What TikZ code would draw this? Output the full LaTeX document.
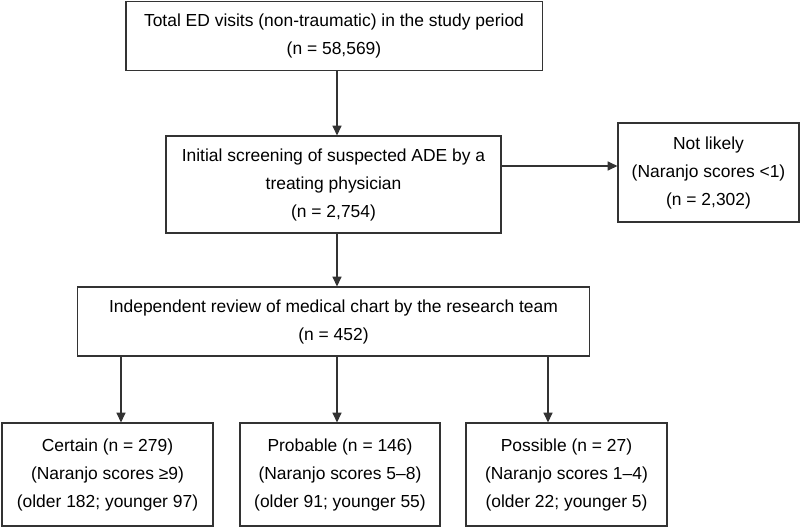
\documentclass[tikz,border=0pt]{standalone}
\usepackage{fontspec}
\setmainfont{Liberation Sans}
\usetikzlibrary{arrows.meta}
\tikzset{flowbox/.style={
    draw=black!80, line width=0.8pt, align=center, inner sep=0pt,
    font=\fontsize{12.4}{19.9}\selectfont
  },
  flowarrow/.style={draw=black!80, line width=0.8pt, -{Triangle[length=7pt,width=6.5pt]}}
}

\begin{document}
\begin{tikzpicture}[x=0.025cm, y=-0.025cm]
  \useasboundingbox (0,0) rectangle (800,527);
  \coordinate (spine) at (337,0);
  \coordinate (side) at (0,166);
  \coordinate (leftcol) at (121,0);
  \coordinate (rightcol) at (548,0);
  \node[flowbox, minimum width=10.4cm, minimum height=1.725cm] (total) at (334,35.75)
    {Total ED visits (non-traumatic) in the study period\\(n = 58,569)};
  \node[flowbox, minimum width=8.375cm, minimum height=2.425cm] (screen) at (333.5,184.5)
    {Initial screening of suspected ADE by a\\treating physician\\(n = 2,754)};
  \node[flowbox, minimum width=4.525cm, minimum height=2.475cm] (unlikely) at (708.5,172.5)
    {Not likely\\(Naranjo scores <1)\\(n = 2,302)};
  \node[flowbox, minimum width=12.775cm, minimum height=1.725cm] (review) at (333.5,321.5)
    {Independent review of medical chart by the research team\\(n = 452)};
  \node[flowbox, minimum width=5.275cm, minimum height=2.575cm] (certain) at (107.5,474.5)
    {Certain (n = 279)\\(Naranjo scores ≥9)\\(older 182; younger 97)};
  \node[flowbox, minimum width=5cm, minimum height=2.575cm] (probable) at (340,474.5)
    {Probable (n = 146)\\(Naranjo scores 5–8)\\(older 91; younger 55)};
  \node[flowbox, minimum width=5.025cm, minimum height=2.575cm] (possible) at (566.5,474.5)
    {Possible (n = 27)\\(Naranjo scores 1–4)\\(older 22; younger 5)};
  \draw[flowarrow] (total.south -| spine) -- (screen.north -| spine);
  \draw[flowarrow] (screen.east |- side) -- (unlikely.west |- side);
  \draw[flowarrow] (screen.south -| spine) -- (review.north -| spine);
  \draw[flowarrow] (review.south -| leftcol) -- (certain.north -| leftcol);
  \draw[flowarrow] (review.south -| spine) -- (probable.north -| spine);
  \draw[flowarrow] (review.south -| rightcol) -- (possible.north -| rightcol);
\end{tikzpicture}
\end{document}
